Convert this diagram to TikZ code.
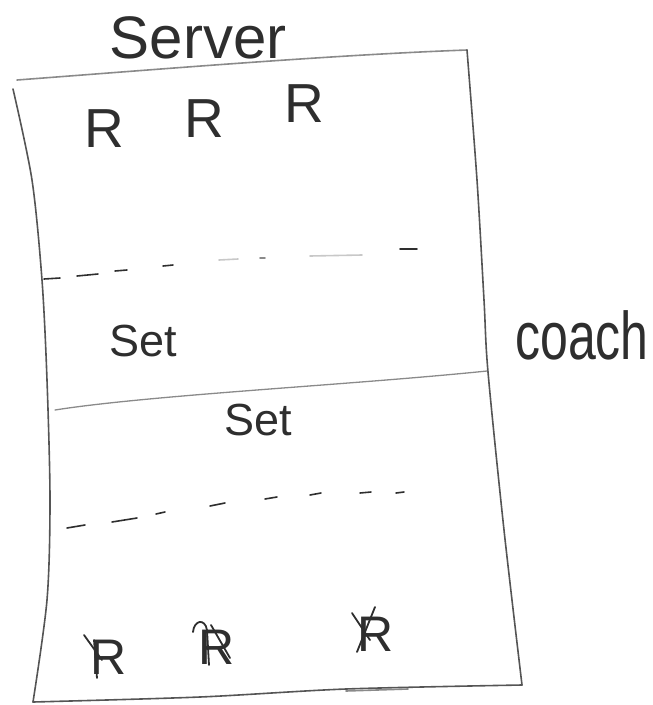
\documentclass[tikz,border=0pt]{standalone}
\usepackage{fontspec}
\setmainfont{Liberation Sans}
\usepackage{graphicx}
\definecolor{ink}{HTML}{2E2E2E}
\definecolor{pencil}{HTML}{555555}
\definecolor{light}{HTML}{8A8A8A}
\definecolor{faint}{HTML}{C8C8C8}
\tikzset{
  courtline/.style={draw=pencil, line width=1.6pt, line cap=round, line join=round},
  dashseg/.style={draw=ink, line width=1.6pt, line cap=round},
  faintseg/.style={draw=faint, line width=1.6pt, line cap=round},
  hand/.style={text=ink, inner sep=0pt},
  overstroke/.style={draw=ink, line width=1.8pt, line cap=round}
}
\begin{document}
\begin{tikzpicture}[x=1pt,y=-1pt]
\useasboundingbox (0,0) rectangle (653,705);
% court outline
\draw[courtline, draw=light] (17,80) .. controls (150,70) and (330,55) .. (467,50);
\draw[courtline] plot[smooth] coordinates {(467,50) (477,180) (484,300) (488,372) (504,530) (522,685)};
\draw[courtline] plot[smooth] coordinates {(13,89) (32,180) (42,280) (47,380) (50,500) (47,600) (33,702)};
\draw[courtline] plot[smooth] coordinates {(33,702) (200,697) (346,689) (522,685)};
\draw[courtline, draw=light] (346,691) -- (408,689);
% net (center line)
\draw[courtline, draw=light, line width=1.3pt] (55,410) .. controls (150,395) and (350,385) .. (487,371);
% upper dashed attack line
\draw[dashseg] (44,279) -- (60,278);
\draw[dashseg] (77,276) -- (98,274);
\draw[dashseg] (115,271) -- (127,270);
\draw[dashseg] (163,266) -- (173,265);
\draw[faintseg] (219,260) -- (238,259);
\draw[dashseg, draw=light] (260,258) -- (265,258);
\draw[faintseg] (310,256) -- (362,255);
\draw[dashseg] (400,249) -- (417,249);
% lower dashed attack line
\draw[dashseg] (67,528) -- (85,525);
\draw[dashseg] (112,522) -- (137,518);
\draw[dashseg] (156,514) -- (165,512);
\draw[dashseg] (210,506) -- (225,503);
\draw[dashseg] (265,499) -- (277,497);
\draw[dashseg] (310,495) -- (321,493);
\draw[dashseg] (360,493) -- (371,492);
\draw[dashseg] (396,493) -- (404,492);
% labels
\node[hand] (server) at (198,38) {\fontsize{60}{64}\selectfont Server};
\node[hand] (coach) at (582,335) {\scalebox{1}[1.35]{\fontsize{50}{56}\selectfont coach}};
\node[hand] (set1) at (143,341) {\fontsize{45}{50}\selectfont Set};
\node[hand] (set2) at (258,420) {\fontsize{45}{50}\selectfont Set};
% top receivers
\node[hand] (r1) at (104,129) {\fontsize{55}{60}\selectfont R};
\node[hand] (r2) at (204,119) {\fontsize{55}{60}\selectfont R};
\node[hand] (r3) at (304,104) {\fontsize{55}{60}\selectfont R};
% bottom receivers (scribbled)
\node[hand] (b1) at (109,657) {\fontsize{50}{55}\selectfont R};
\node[hand] (b2) at (217,647) {\fontsize{50}{55}\selectfont R};
\node[hand] (b3) at (376,634) {\fontsize{50}{55}\selectfont R};
\draw[overstroke] (84,635) -- (102,660);
\draw[overstroke] (94,640) -- (97,678);
\draw[overstroke] (193,632) .. controls (194,620) and (205,618) .. (207,630) -- (209,665);
\draw[overstroke] (211,625) -- (230,658);
\draw[overstroke] (352,613) -- (370,640);
\draw[overstroke] (375,607) -- (357,652);
\end{tikzpicture}
\end{document}
